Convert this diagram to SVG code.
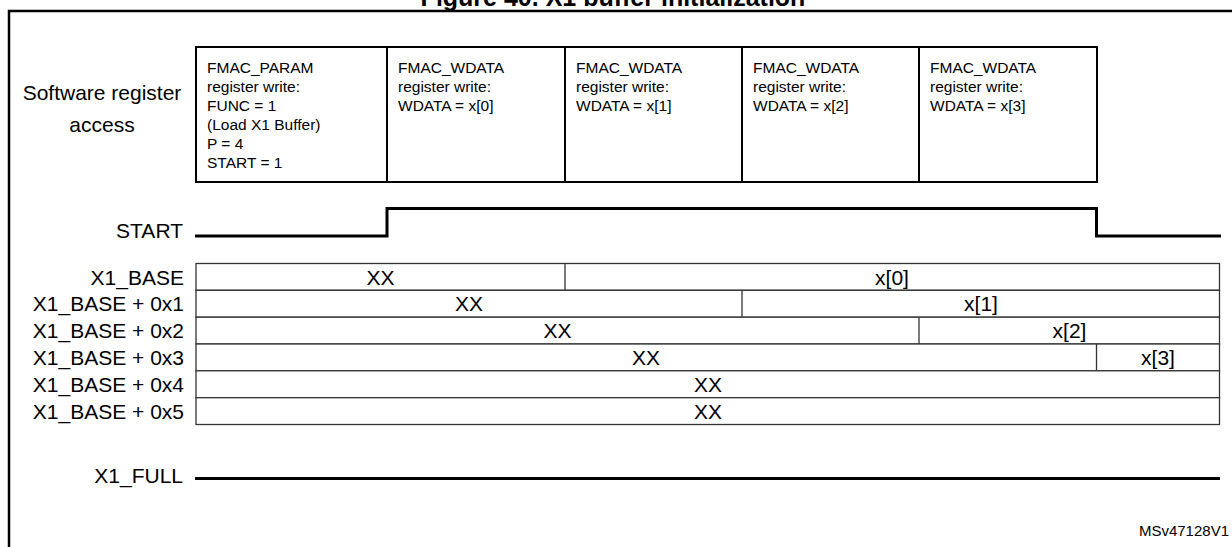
<svg xmlns="http://www.w3.org/2000/svg" width="1232" height="547" viewBox="0 0 1232 547">
<style>
text{font-family:"Liberation Sans",Arial,sans-serif;fill:#000}
.title{font-size:25px;font-weight:bold;text-anchor:middle}
.lbl{font-size:21px;text-anchor:end}
.cell{font-size:21px;text-anchor:middle}
.box{fill:#fff;stroke:#000;stroke-width:2}
.btxt{font-size:15.5px}
.bus{fill:#fff;stroke:#333;stroke-width:1.3}
.div{stroke:#333;stroke-width:1.3}
.sig{fill:none;stroke:#000;stroke-width:3}
</style>
<rect width="1232" height="547" fill="#fff"/>
<text class="title" x="613" y="5.5">Figure 40. X1 buffer initialization</text>
<rect x="9" y="11" width="1240" height="560" fill="none" stroke="#000" stroke-width="2.5"/>

<g id="sw-access">
<text class="cell" x="102" y="100">Software register</text>
<text class="cell" x="102" y="131.5">access</text>
</g>

<g id="box-param">
<rect class="box" x="196" y="47" width="191" height="135"/>
<text class="btxt" x="207" y="72.5">FMAC_PARAM</text>
<text class="btxt" x="207" y="91.5">register write:</text>
<text class="btxt" x="207" y="110.5">FUNC = 1</text>
<text class="btxt" x="207" y="129.5">(Load X1 Buffer)</text>
<text class="btxt" x="207" y="148.5">P = 4</text>
<text class="btxt" x="207" y="167.5">START = 1</text>
</g>
<g id="box-wdata0">
<rect class="box" x="387" y="47" width="178" height="135"/>
<text class="btxt" x="398" y="72.5">FMAC_WDATA</text>
<text class="btxt" x="398" y="91.5">register write:</text>
<text class="btxt" x="398" y="110.5">WDATA = x[0]</text>
</g>
<g id="box-wdata1">
<rect class="box" x="565" y="47" width="177" height="135"/>
<text class="btxt" x="576" y="72.5">FMAC_WDATA</text>
<text class="btxt" x="576" y="91.5">register write:</text>
<text class="btxt" x="576" y="110.5">WDATA = x[1]</text>
</g>
<g id="box-wdata2">
<rect class="box" x="742" y="47" width="177" height="135"/>
<text class="btxt" x="753" y="72.5">FMAC_WDATA</text>
<text class="btxt" x="753" y="91.5">register write:</text>
<text class="btxt" x="753" y="110.5">WDATA = x[2]</text>
</g>
<g id="box-wdata3">
<rect class="box" x="919" y="47" width="178" height="135"/>
<text class="btxt" x="930" y="72.5">FMAC_WDATA</text>
<text class="btxt" x="930" y="91.5">register write:</text>
<text class="btxt" x="930" y="110.5">WDATA = x[3]</text>
</g>

<g id="start">
<text class="lbl" x="183" y="238">START</text>
</g>

<g id="row-base">
<text class="lbl" x="184" y="284.5">X1_BASE</text>
<rect class="bus" x="196" y="263.5" width="1023.5" height="26.8"/>
<line class="div" x1="565" y1="263.5" x2="565" y2="290.3"/>
<text class="cell" x="380.5" y="284.5">XX</text>
<text class="cell" x="892" y="284.5">x[0]</text>
</g>
<g id="row-1">
<text class="lbl" x="184" y="311.3">X1_BASE + 0x1</text>
<rect class="bus" x="196" y="290.3" width="1023.5" height="26.9"/>
<line class="div" x1="742" y1="290.3" x2="742" y2="317.2"/>
<text class="cell" x="469" y="311.3">XX</text>
<text class="cell" x="981" y="311.3">x[1]</text>
</g>
<g id="row-2">
<text class="lbl" x="184" y="338.2">X1_BASE + 0x2</text>
<rect class="bus" x="196" y="317.2" width="1023.5" height="26.8"/>
<line class="div" x1="919" y1="317.2" x2="919" y2="344"/>
<text class="cell" x="557.5" y="338.2">XX</text>
<text class="cell" x="1069.5" y="338.2">x[2]</text>
</g>
<g id="row-3">
<text class="lbl" x="184" y="365">X1_BASE + 0x3</text>
<rect class="bus" x="196" y="344" width="1023.5" height="26.8"/>
<line class="div" x1="1096.5" y1="344" x2="1096.5" y2="370.8"/>
<text class="cell" x="646" y="365">XX</text>
<text class="cell" x="1158" y="365">x[3]</text>
</g>
<g id="row-4">
<text class="lbl" x="184" y="391.8">X1_BASE + 0x4</text>
<rect class="bus" x="196" y="370.8" width="1023.5" height="26.9"/>
<text class="cell" x="708" y="391.8">XX</text>
</g>
<g id="row-5">
<text class="lbl" x="184" y="418.7">X1_BASE + 0x5</text>
<rect class="bus" x="196" y="397.7" width="1023.5" height="26.8"/>
<text class="cell" x="708" y="418.7">XX</text>
</g>

<g id="x1-full">
<text class="lbl" x="183" y="483">X1_FULL</text>
</g>

<g id="waveforms">
<path class="sig" d="M195,236 H387 V208.5 H1096.5 V236 H1221"/>
<path class="sig" d="M195,478.5 H1220"/>
</g>

<text x="1229" y="536" font-size="15" text-anchor="end">MSv47128V1</text>
</svg>
